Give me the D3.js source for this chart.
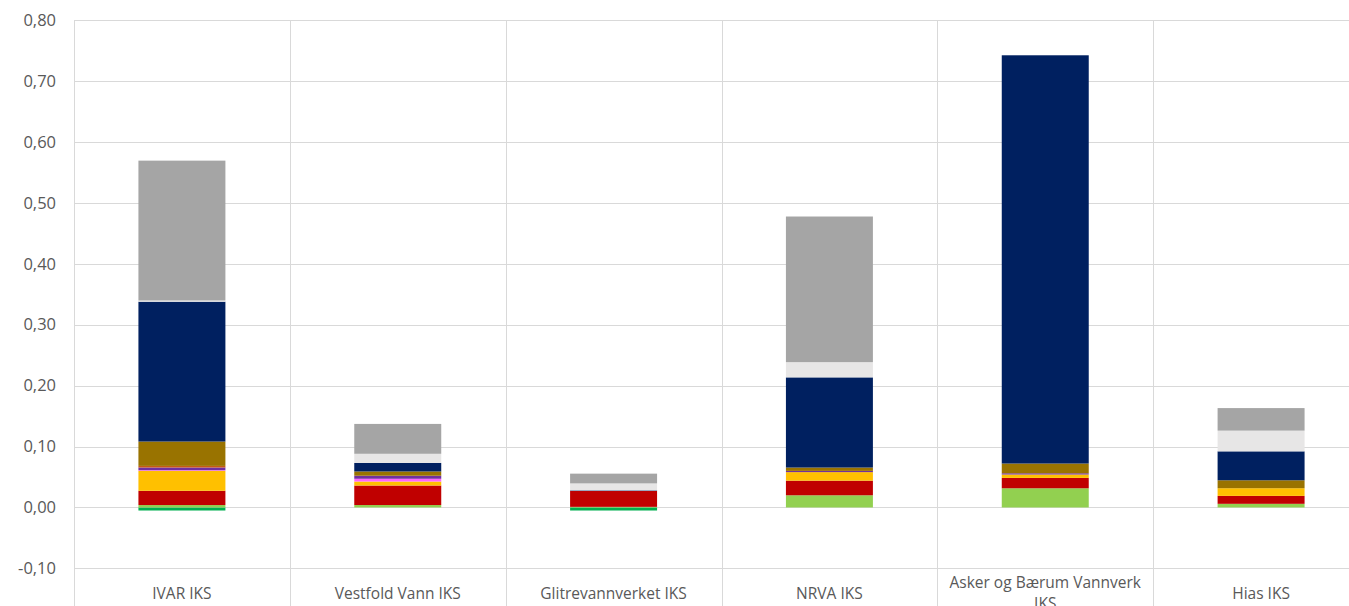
<!DOCTYPE html>
<html>
<head>
<meta charset="utf-8">
<script src="https://cdn.jsdelivr.net/npm/d3@7"></script>
<style>
  html, body { margin: 0; padding: 0; background: #fff; overflow: hidden; }
  svg { display: block; }
  text { font-family: "Open Sans", "Liberation Sans", sans-serif; fill: #595959; }
</style>
</head>
<body>
<svg id="chart" width="1349" height="606"></svg>
<script>
// ---- Data ----
const categories = ["IVAR IKS", "Vestfold Vann IKS", "Glitrevannverket IKS", "NRVA IKS", "Asker og Bærum Vannverk IKS", "Hias IKS"];
const seriesNames = ["s1", "s2", "s3", "s4", "s5", "s6", "s7", "s8", "s9", "s10", "s11"];
const seriesColors = ["#00B050", "#92D050", "#C00000", "#FFC000", "#FF66FF", "#7030A0", "#C55A11", "#997300", "#002060", "#E7E6E6", "#A5A5A5"];
const s1  = [-0.005, 0,      -0.005, 0,      0,      0];
const s2  = [0.004,  0.004,  0.001,  0.020,  0.0315, 0.006];
const s3  = [0.0234, 0.032,  0.026,  0.024,  0.017,  0.013];
const s4  = [0.0328, 0.0066, 0,      0.014,  0.0056, 0.0126];
const s5  = [0.001,  0.0045, 0,      0,      0,      0];
const s6  = [0.0044, 0.005,  0,      0.002,  0.002,  0];
const s7  = [0.0026, 0,      0,      0,      0,      0];
const s8  = [0.040,  0.007,  0,      0.0055, 0.016,  0.013];
const s9  = [0.2295, 0.014,  0.001,  0.148,  0.670,  0.0475];
const s10 = [0.002,  0.015,  0.0115, 0.025,  0,      0.034];
const s11 = [0.2295, 0.049,  0.016,  0.239,  0,      0.037];
const seriesValues = [s1, s2, s3, s4, s5, s6, s7, s8, s9, s10, s11];
const yTicks = [-0.1, 0, 0.1, 0.2, 0.3, 0.4, 0.5, 0.6, 0.7, 0.8];

// ---- Build table ----
const table = categories.map((c, i) => {
  const row = { cat: c };
  seriesNames.forEach((s, j) => row[s] = seriesValues[j][i]);
  return row;
});

const svg = d3.select("#chart");
const left = 74, right = 1369;
const x = d3.scaleBand().domain(categories).range([left, right]).paddingInner(0).paddingOuter(0);
const y = d3.scaleLinear().domain([-0.1, 0.8]).range([568.4, 20]);

const fmt = v => d3.format(".2f")(v).replace(".", ",").replace("−", "-");

// gridlines
svg.append("g").selectAll("line").data(yTicks).join("line")
  .attr("x1", left).attr("x2", 1349)
  .attr("y1", d => Math.round(y(d)) + 0.5).attr("y2", d => Math.round(y(d)) + 0.5)
  .attr("stroke", "#d9d9d9").attr("stroke-width", 1);

// vertical separators
const seps = categories.map(c => x(c));
svg.append("g").selectAll("line").data(seps).join("line")
  .attr("x1", d => Math.round(d) + 0.5).attr("x2", d => Math.round(d) + 0.5)
  .attr("y1", Math.round(y(0.8))).attr("y2", 606)
  .attr("stroke", "#d9d9d9").attr("stroke-width", 1);

// y labels
const yAxis = d3.axisLeft(y).tickValues(yTicks).tickFormat(fmt).tickSize(0).tickPadding(0);
const ga = svg.append("g").attr("transform", `translate(56,0)`).call(yAxis);
ga.select(".domain").remove();
ga.selectAll("text").attr("font-size", "16.5px").attr("fill", "#595959")
  .attr("font-family", "'Open Sans', sans-serif");

// bars
const stack = d3.stack().keys(seriesNames).offset(d3.stackOffsetDiverging);
const layers = stack(table);
const bw = x.bandwidth() * 0.403;
svg.append("g").selectAll("g").data(layers).join("g")
  .attr("fill", (d, i) => seriesColors[i])
  .selectAll("rect").data(d => d).join("rect")
  .attr("x", d => x(d.data.cat) + (x.bandwidth() - bw) / 2)
  .attr("width", bw)
  .attr("y", d => y(Math.max(d[0], d[1])))
  .attr("height", d => Math.abs(y(d[0]) - y(d[1])));

// category labels (wrap)
const lab = svg.append("g");
categories.forEach(c => {
  const cx = x(c) + x.bandwidth() / 2;
  const t = lab.append("text").attr("x", cx).attr("text-anchor", "middle")
    .attr("font-size", "15.5px").attr("fill", "#595959");
  const words = c.split(" ");
  let lines = [], cur = "";
  const tmp = lab.append("text").attr("font-size", "15.5px");
  words.forEach(w => {
    const test = cur ? cur + " " + w : w;
    tmp.text(test);
    if (tmp.node().getComputedTextLength() > 205 && cur) { lines.push(cur); cur = w; }
    else cur = test;
  });
  lines.push(cur);
  tmp.remove();
  const startY = lines.length > 1 ? 588 : 599;
  lines.forEach((l, i) => t.append("tspan").attr("x", cx).attr("y", startY + i * 21).text(l));
});
</script>
</body>
</html>
